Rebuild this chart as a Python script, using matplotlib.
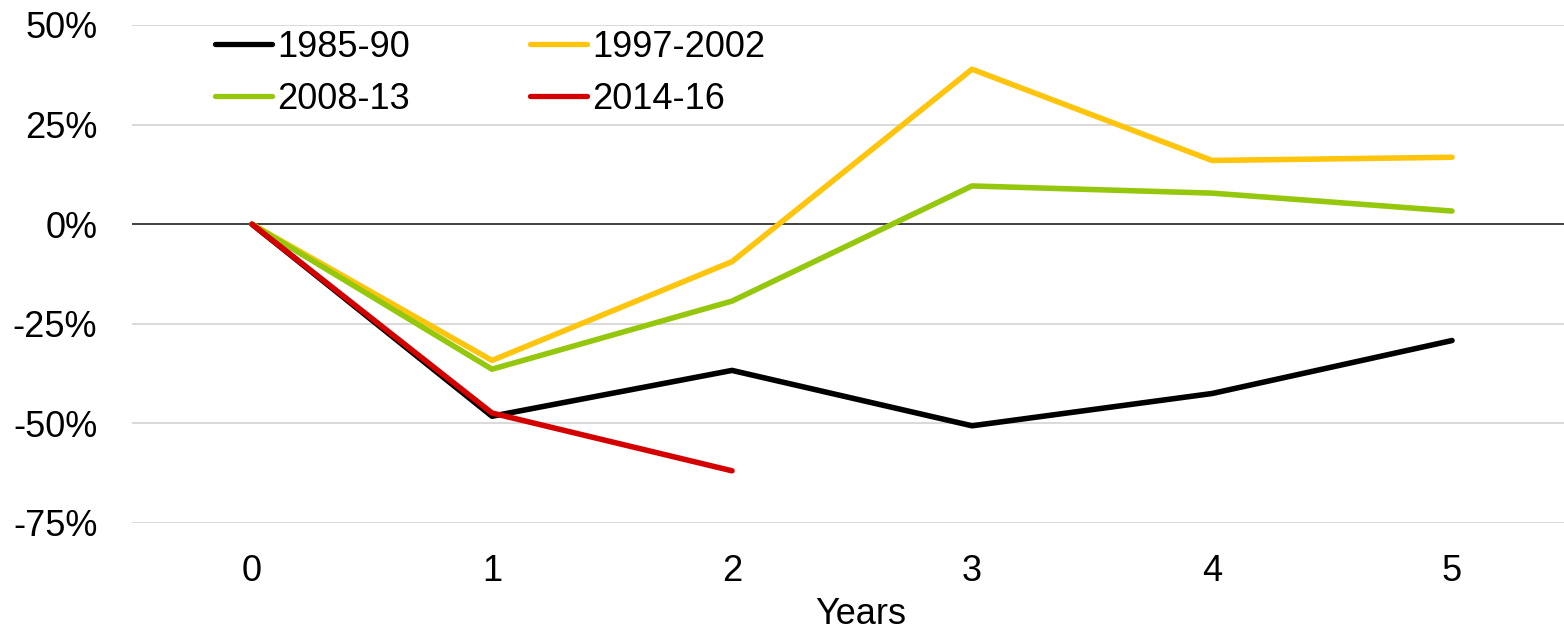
import matplotlib
matplotlib.use('Agg')
import matplotlib.pyplot as plt
from matplotlib.ticker import FuncFormatter

plt.rcParams['font.family'] = ['Liberation Sans', 'DejaVu Sans']

# data
years = [0, 1, 2, 3, 4, 5]
years_red = [0, 1, 2]
s_1985 = [0.0, -48.2, -36.7, -50.6, -42.5, -29.2]
s_1997 = [0.0, -34.2, -9.4, 38.9, 16.0, 16.8]
s_2008 = [0.0, -36.4, -19.3, 9.6, 7.8, 3.3]
s_2014 = [0.0, -47.4, -61.9]

yticks = [-75, -50, -25, 0, 25, 50]

W, H = 1564, 629
fig = plt.figure(figsize=(W / 100, H / 100), dpi=100)
ax = fig.add_axes([132 / W, 1 - 523 / H, 1440 / W, 498 / H])

for v in yticks:
    if v == 0:
        continue
    ax.axhline(v, color='#d9d9d9', lw=1.4, zorder=1)
ax.axhline(0, color='#404040', lw=1.4, zorder=2)

lw = 4.0
l1, = ax.plot(years, s_1985, color='#000000', lw=lw, label='1985-90',
              solid_capstyle='round', zorder=3)
l2, = ax.plot(years, s_1997, color='#ffc40c', lw=lw, label='1997-2002',
              solid_capstyle='round', zorder=3)
l3, = ax.plot(years, s_2008, color='#95c80c', lw=lw, label='2008-13',
              solid_capstyle='round', zorder=3)
l4, = ax.plot(years_red, s_2014, color='#d40000', lw=lw, label='2014-16',
              solid_capstyle='round', zorder=4)

ax.set_xlim(-0.5, 5.5)
ax.set_ylim(-75, 50)
ax.set_xticks(years)
ax.set_yticks(yticks)
ax.yaxis.set_major_formatter(FuncFormatter(lambda v, p: '%d%%' % v))
ax.tick_params(axis='both', length=0, labelsize=26, colors='#000000')
ax.tick_params(axis='y', pad=25)
ax.tick_params(axis='x', pad=22)
for sp in ax.spines.values():
    sp.set_visible(False)

ax.set_xlabel('Years', fontsize=26)
ax.xaxis.set_label_coords(0.506, -0.148)

# legend is row-major in the picture, matplotlib fills by column
leg = fig.legend([l1, l3, l2, l4],
                 ['1985-90', '2008-13', '1997-2002', '2014-16'],
                 loc='upper left', bbox_to_anchor=(215 / W, 1 - 30 / H),
                 bbox_transform=fig.transFigure, ncol=2, frameon=False,
                 fontsize=26, handlelength=1.58, handletextpad=0.14,
                 columnspacing=3.33, labelspacing=0.46, borderpad=0,
                 borderaxespad=0)
for h in leg.get_lines():
    h.set_linewidth(3.8)

fig.savefig('out.png', dpi=100)
plt.close('all')
